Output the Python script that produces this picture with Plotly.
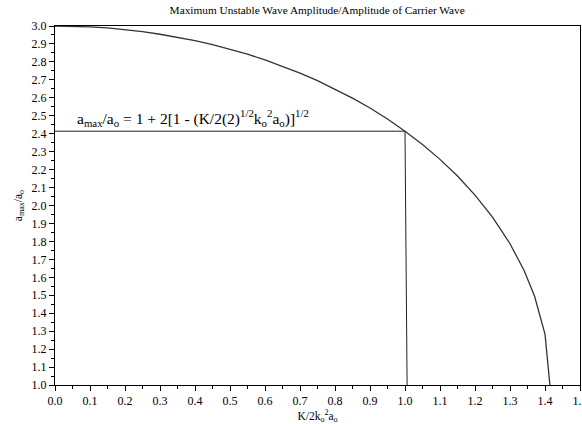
import plotly.graph_objects as go

# Curve
curve_x = [0.0, 0.05, 0.10, 0.15, 0.20, 0.25, 0.30, 0.35, 0.40, 0.45, 0.50, 0.55, 0.60,
           0.65, 0.70, 0.75, 0.80, 0.85, 0.90, 0.95, 1.00, 1.05, 1.10, 1.15, 1.20, 1.25,
           1.30, 1.34, 1.37, 1.40, 1.414]
curve_y = [3.000, 2.999, 2.995, 2.989, 2.980, 2.969, 2.954, 2.938, 2.918, 2.896, 2.871,
           2.843, 2.811, 2.776, 2.738, 2.696, 2.649, 2.598, 2.543, 2.482, 2.414, 2.340,
           2.257, 2.164, 2.058, 1.935, 1.787, 1.639, 1.496, 1.283, 1.000]

# Guide lines marking x = 1.0
guide_x = [0.0, 1.0, 1.006]
guide_y = [2.414, 2.414, 1.0]

title_text = "Maximum Unstable Wave Amplitude/Amplitude of Carrier Wave"
x_title = "K/2k<sub>o</sub><sup>2</sup>a<sub>o</sub>"
y_title = "a<sub>max</sub>/a<sub>o</sub>"
formula = ("a<sub>max</sub>/a<sub>o</sub> = 1 + 2[1 - (K/2(2)<sup>1/2</sup>"
           "k<sub>o</sub><sup>2</sup>a<sub>o</sub>)]<sup>1/2</sup>")

FONT = "Liberation Serif, Times New Roman, serif"

fig = go.Figure()
fig.add_trace(go.Scatter(x=guide_x, y=guide_y, mode="lines",
                         line=dict(color="#222", width=1), hoverinfo="skip",
                         showlegend=False))
fig.add_trace(go.Scatter(x=curve_x, y=curve_y, mode="lines",
                         line=dict(color="#333", width=1.3), showlegend=False))

fig.add_annotation(x=0.058, y=2.414, xref="x", yref="y", text=formula,
                   showarrow=False, xanchor="left", yanchor="bottom", yshift=0,
                   font=dict(family=FONT, size=15.5, color="black"))

axis_common = dict(showgrid=False, zeroline=False, showline=True, linecolor="black",
                   linewidth=1, mirror=True, ticks="outside", ticklen=5,
                   tickwidth=1, tickcolor="black",
                   tickfont=dict(family=FONT, size=12, color="black"),
                   minor=dict(ticks="outside", ticklen=3, tickwidth=1,
                              tickcolor="black", showgrid=False))

fig.update_xaxes(range=[0, 1.5], dtick=0.1, tick0=0, tickformat=".1f",
                 ticklabeloverflow="allow", automargin=False,
                 title=dict(text=x_title, font=dict(family=FONT, size=11.5), standoff=3),
                 **axis_common)
fig.update_yaxes(range=[1.0, 3.0], dtick=0.1, tick0=1.0, tickformat=".1f",
                 automargin=False,
                 title=dict(text=y_title, font=dict(family=FONT, size=11.5), standoff=6),
                 **axis_common)
fig.update_xaxes(minor_dtick=0.05)
fig.update_yaxes(minor_dtick=0.05)

fig.update_layout(
    width=582, height=424,
    margin=dict(l=55, r=2, t=26, b=39),
    paper_bgcolor="white", plot_bgcolor="white",
    title=dict(text=title_text, x=0.545, xanchor="center", y=0.985, yanchor="top",
               font=dict(family=FONT, size=11.3, color="black")),
    font=dict(family=FONT, color="black"),
)

fig.write_html("out.html")
